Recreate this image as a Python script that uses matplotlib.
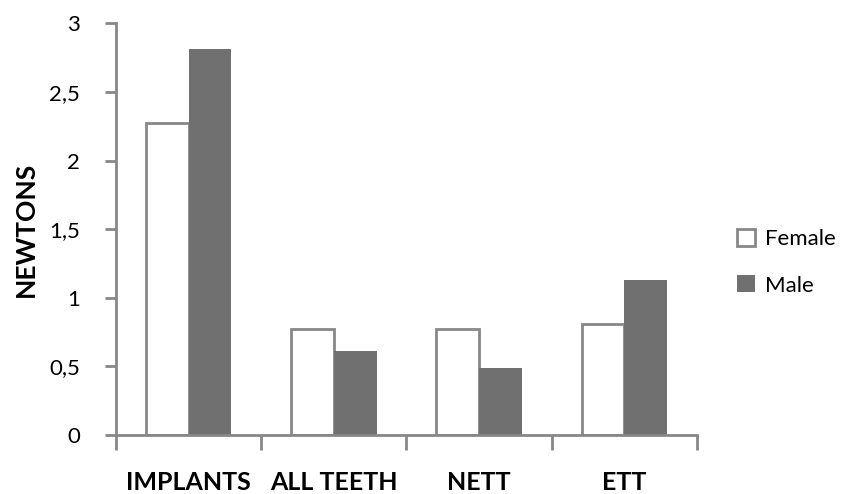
import matplotlib
matplotlib.use("Agg")
import matplotlib.pyplot as plt
from matplotlib.ticker import FixedLocator, NullFormatter

# datos
categorias = ["IMPLANTS", "ALL TEETH", "NETT", "ETT"]
female = [2.27, 0.77, 0.77, 0.81]
male = [2.81, 0.61, 0.49, 1.13]
yticks = [0, 0.5, 1, 1.5, 2, 2.5, 3]
ytick_labels = ["0", "0,5", "1", "1,5", "2", "2,5", "3"]

plt.rcParams['font.family'] = ['Lato', 'DejaVu Sans']
gris = "#878787"

fig = plt.figure(figsize=(8.43, 4.94), dpi=100)
ax = fig.add_axes([0.1376, 0.1194, 0.8268 - 0.1376, 0.9528 - 0.1194])

x = range(len(categorias))
ancho = 0.295
xf = [i - ancho / 2 for i in x]
xm = [i + ancho / 2 for i in x]
ax.bar(xf, female, width=ancho, color="white", edgecolor=gris, linewidth=2, label="Female")
ax.bar(xm, male, width=ancho, color="#707070", edgecolor="#707070", linewidth=0, label="Male")

ax.set_xlim(-0.5, len(categorias) - 0.5)
ax.set_ylim(0, 3)

# ticks en los bordes de las categorias, etiquetas en el centro
ax.xaxis.set_major_locator(FixedLocator([i - 0.5 for i in range(len(categorias) + 1)]))
ax.xaxis.set_major_formatter(NullFormatter())
ax.xaxis.set_minor_locator(FixedLocator(list(x)))
ax.set_xticklabels(categorias, minor=True, fontsize=18, fontweight="bold")
ax.tick_params(axis="x", which="major", length=11, width=2, color=gris, direction="out")
ax.tick_params(axis="x", which="minor", length=0, pad=26)

ax.set_yticks(yticks)
ax.set_yticklabels(ytick_labels, fontsize=16)
ax.tick_params(axis="y", length=8, width=2, color=gris, pad=18)

for s in ["top", "right"]:
    ax.spines[s].set_visible(False)
for s in ["left", "bottom"]:
    ax.spines[s].set_color(gris)
    ax.spines[s].set_linewidth(2)

ax.set_ylabel("NEWTONS", fontsize=19, fontweight="bold", labelpad=8)

ax.legend(loc="center left", bbox_to_anchor=(1.069, 0.42), frameon=False, fontsize=16,
          borderaxespad=0, borderpad=0,
          handlelength=0.8, handleheight=0.8, handletextpad=0.45, labelspacing=1.2)

plt.savefig("out.png", dpi=100)
